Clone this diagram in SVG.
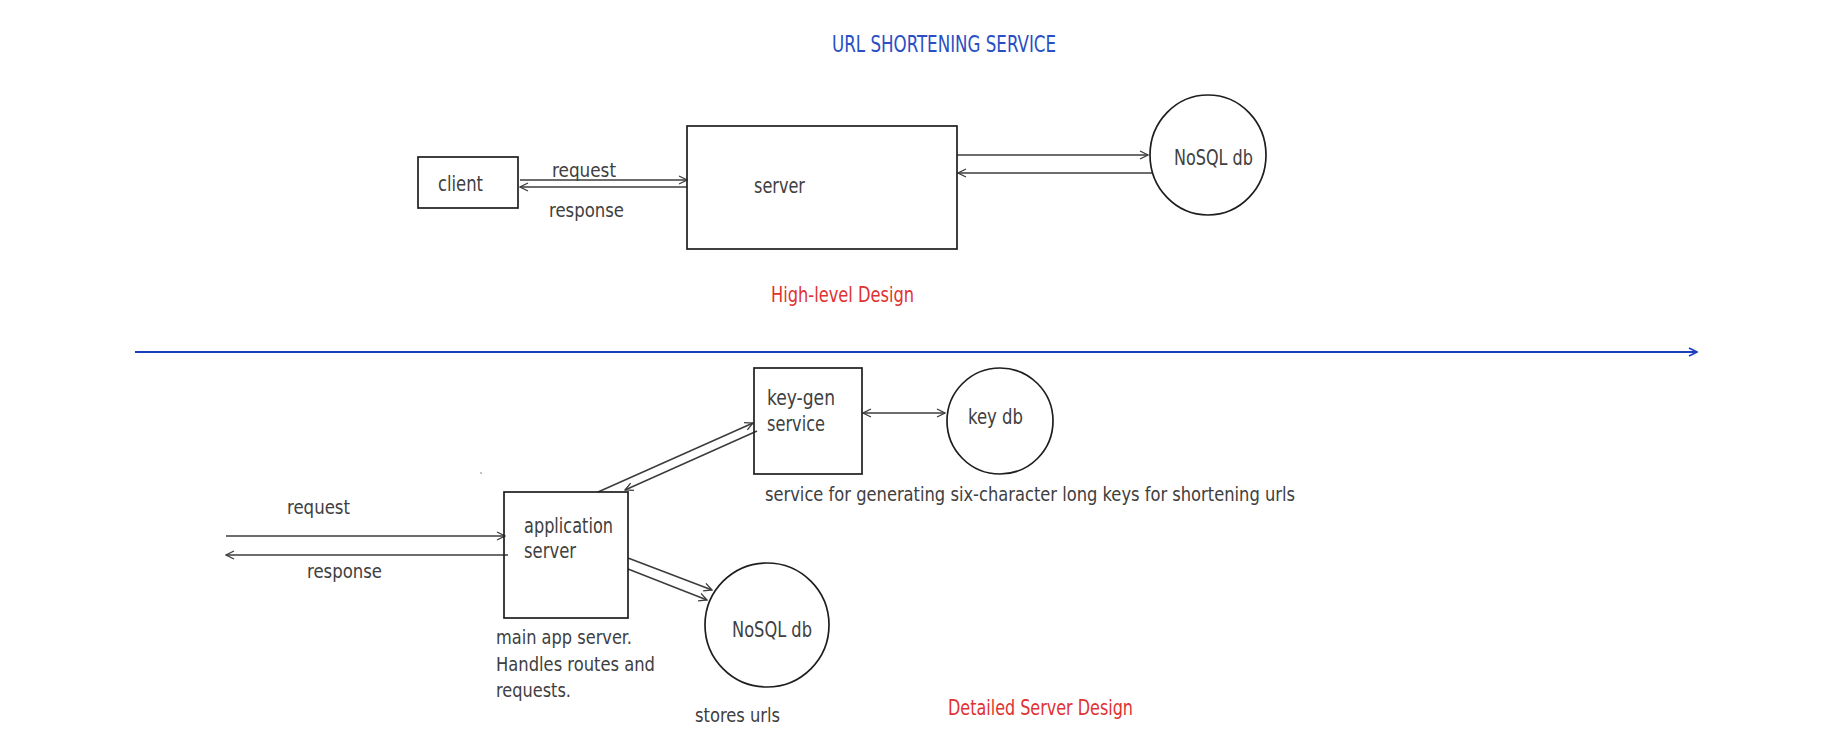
<svg xmlns="http://www.w3.org/2000/svg" width="1827" height="731" viewBox="0 0 1827 731">
<style>
  .bg { fill: #ffffff; }
  .box { fill: none; stroke: #1e1e1e; stroke-width: 1.7; }
  .lbl { font-family: "Liberation Sans Narrow", "DejaVu Sans Condensed", "Liberation Sans", sans-serif; fill: #404040; font-size: 20px; }
  .big { font-size: 21px; }
  .title { fill: #2a4fc4; font-size: 23px; }
  .red { fill: #e03131; font-size: 22px; }
  .con { fill: none; stroke: #3c3c3c; stroke-width: 1.5; }
  .blue { fill: none; stroke: #1b3fbf; stroke-width: 2.2; }
</style>
<defs>
  <marker id="ah" viewBox="0 0 10 10" refX="9" refY="5" markerWidth="10" markerHeight="10" markerUnits="userSpaceOnUse" orient="auto-start-reverse">
    <path d="M1,1 L9,5 L1,9" fill="none" stroke="#3c3c3c" stroke-width="1.3"/>
  </marker>
  <marker id="ahb" viewBox="0 0 10 10" refX="9" refY="5" markerWidth="10" markerHeight="10" markerUnits="userSpaceOnUse" orient="auto">
    <path d="M1,1 L9,5 L1,9" fill="none" stroke="#1b3fbf" stroke-width="1.6"/>
  </marker>
</defs>
<rect class="bg" x="0" y="0" width="1827" height="731"/>

<text id="title" class="lbl title" x="832" y="52" textLength="224" lengthAdjust="spacingAndGlyphs">URL SHORTENING SERVICE</text>

<g id="connectors">
  <line class="con" x1="520" y1="180" x2="687" y2="180" marker-end="url(#ah)"/>
  <line class="con" x1="687" y1="187" x2="520" y2="187" marker-end="url(#ah)"/>
  <line class="con" x1="957" y1="155" x2="1148" y2="155" marker-end="url(#ah)"/>
  <line class="con" x1="1152" y1="173" x2="958" y2="173" marker-end="url(#ah)"/>
  <line class="blue" x1="135" y1="352" x2="1697" y2="352" marker-end="url(#ahb)"/>
  <line class="con" x1="226" y1="536" x2="505" y2="536" marker-end="url(#ah)"/>
  <line class="con" x1="508" y1="555" x2="226" y2="555" marker-end="url(#ah)"/>
  <line class="con" x1="598" y1="492" x2="753" y2="423" marker-end="url(#ah)"/>
  <line class="con" x1="757" y1="431" x2="625" y2="490" marker-end="url(#ah)"/>
  <line class="con" x1="863" y1="413" x2="945" y2="413" marker-start="url(#ah)" marker-end="url(#ah)"/>
  <line class="con" x1="628" y1="558" x2="712" y2="590" marker-end="url(#ah)"/>
  <line class="con" x1="628" y1="569" x2="707" y2="600" marker-end="url(#ah)"/>
</g>

<g id="lbl-top">
  <text class="lbl" x="552" y="177" textLength="64" lengthAdjust="spacingAndGlyphs">request</text>
  <text class="lbl" x="549" y="217" textLength="75" lengthAdjust="spacingAndGlyphs">response</text>
</g>

<g id="client">
  <rect class="box" x="418" y="157" width="100" height="51"/>
  <text class="lbl big" x="438" y="191" textLength="45" lengthAdjust="spacingAndGlyphs">client</text>
</g>

<g id="server">
  <rect class="box" x="687" y="126" width="270" height="123"/>
  <text class="lbl big" x="754" y="193" textLength="51" lengthAdjust="spacingAndGlyphs">server</text>
</g>

<g id="nosql-top">
  <ellipse class="box" cx="1208" cy="155" rx="58" ry="60"/>
  <text class="lbl big" x="1174" y="165" textLength="79" lengthAdjust="spacingAndGlyphs">NoSQL db</text>
</g>

<text id="hl-design" class="lbl red" x="771" y="302" textLength="143" lengthAdjust="spacingAndGlyphs">High-level Design</text>

<g id="lbl-bottom">
  <text class="lbl" x="287" y="514" textLength="63" lengthAdjust="spacingAndGlyphs">request</text>
  <text class="lbl" x="307" y="578" textLength="75" lengthAdjust="spacingAndGlyphs">response</text>
  <circle cx="481" cy="473" r="0.8" fill="#777"/>
</g>

<g id="app-server">
  <rect class="box" x="504" y="492" width="124" height="126"/>
  <text class="lbl big" x="524" y="533" textLength="89" lengthAdjust="spacingAndGlyphs">application</text>
  <text class="lbl big" x="524" y="558" textLength="52" lengthAdjust="spacingAndGlyphs">server</text>
  <text class="lbl" x="496" y="644" textLength="136" lengthAdjust="spacingAndGlyphs">main app server.</text>
  <text class="lbl" x="496" y="671" textLength="159" lengthAdjust="spacingAndGlyphs">Handles routes and</text>
  <text class="lbl" x="496" y="697" textLength="75" lengthAdjust="spacingAndGlyphs">requests.</text>
</g>

<g id="key-gen">
  <rect class="box" x="754" y="368" width="108" height="106"/>
  <text class="lbl big" x="767" y="405" textLength="68" lengthAdjust="spacingAndGlyphs">key-gen</text>
  <text class="lbl big" x="767" y="431" textLength="58" lengthAdjust="spacingAndGlyphs">service</text>
  <text class="lbl" x="765" y="501" textLength="530" lengthAdjust="spacingAndGlyphs">service for generating six-character long keys for shortening urls</text>
</g>

<g id="key-db">
  <circle class="box" cx="1000" cy="421" r="53"/>
  <text class="lbl big" x="968" y="424" textLength="55" lengthAdjust="spacingAndGlyphs">key db</text>
</g>

<g id="nosql-bottom">
  <circle class="box" cx="767" cy="625" r="62"/>
  <text class="lbl big" x="732" y="637" textLength="80" lengthAdjust="spacingAndGlyphs">NoSQL db</text>
  <text class="lbl" x="695" y="722" textLength="85" lengthAdjust="spacingAndGlyphs">stores urls</text>
</g>

<text id="detail-design" class="lbl red" x="948" y="715" textLength="185" lengthAdjust="spacingAndGlyphs">Detailed Server Design</text>
</svg>
